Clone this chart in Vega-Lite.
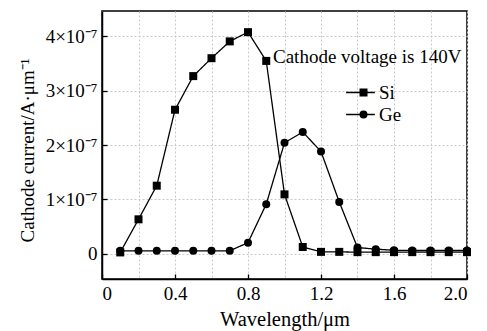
{
  "$schema": "https://vega.github.io/schema/vega-lite/v6.json",
  "width": 365,
  "height": 268,
  "autosize": "none",
  "padding": {"left": 102, "top": 11, "right": 20, "bottom": 52},
  "data": {"values": [
    {"wl": 0.1, "current": 0.05e-7, "material": "Ge"},
    {"wl": 0.2, "current": 0.05e-7, "material": "Ge"},
    {"wl": 0.3, "current": 0.05e-7, "material": "Ge"},
    {"wl": 0.4, "current": 0.05e-7, "material": "Ge"},
    {"wl": 0.5, "current": 0.05e-7, "material": "Ge"},
    {"wl": 0.6, "current": 0.05e-7, "material": "Ge"},
    {"wl": 0.7, "current": 0.05e-7, "material": "Ge"},
    {"wl": 0.8, "current": 0.2e-7, "material": "Ge"},
    {"wl": 0.9, "current": 0.91e-7, "material": "Ge"},
    {"wl": 1.0, "current": 2.04e-7, "material": "Ge"},
    {"wl": 1.1, "current": 2.24e-7, "material": "Ge"},
    {"wl": 1.2, "current": 1.88e-7, "material": "Ge"},
    {"wl": 1.3, "current": 0.95e-7, "material": "Ge"},
    {"wl": 1.4, "current": 0.11e-7, "material": "Ge"},
    {"wl": 1.5, "current": 0.08e-7, "material": "Ge"},
    {"wl": 1.6, "current": 0.06e-7, "material": "Ge"},
    {"wl": 1.7, "current": 0.055e-7, "material": "Ge"},
    {"wl": 1.8, "current": 0.055e-7, "material": "Ge"},
    {"wl": 1.9, "current": 0.055e-7, "material": "Ge"},
    {"wl": 2.0, "current": 0.055e-7, "material": "Ge"},
    {"wl": 0.1, "current": 0.02e-7, "material": "Si"},
    {"wl": 0.2, "current": 0.63e-7, "material": "Si"},
    {"wl": 0.3, "current": 1.25e-7, "material": "Si"},
    {"wl": 0.4, "current": 2.65e-7, "material": "Si"},
    {"wl": 0.5, "current": 3.27e-7, "material": "Si"},
    {"wl": 0.6, "current": 3.6e-7, "material": "Si"},
    {"wl": 0.7, "current": 3.91e-7, "material": "Si"},
    {"wl": 0.8, "current": 4.08e-7, "material": "Si"},
    {"wl": 0.9, "current": 3.55e-7, "material": "Si"},
    {"wl": 1.0, "current": 1.09e-7, "material": "Si"},
    {"wl": 1.1, "current": 0.12e-7, "material": "Si"},
    {"wl": 1.2, "current": 0.03e-7, "material": "Si"},
    {"wl": 1.3, "current": 0.03e-7, "material": "Si"},
    {"wl": 1.4, "current": 0.025e-7, "material": "Si"},
    {"wl": 1.5, "current": 0.025e-7, "material": "Si"},
    {"wl": 1.6, "current": 0.025e-7, "material": "Si"},
    {"wl": 1.7, "current": 0.025e-7, "material": "Si"},
    {"wl": 1.8, "current": 0.025e-7, "material": "Si"},
    {"wl": 1.9, "current": 0.025e-7, "material": "Si"},
    {"wl": 2.0, "current": 0.025e-7, "material": "Si"}
  ]},
  "encoding": {
    "x": {
      "field": "wl", "type": "quantitative",
      "scale": {"domain": [0, 2], "nice": false, "zero": false},
      "axis": {
        "title": "Wavelength/μm",
        "titleFontSize": 20.5,
        "values": [0, 0.2, 0.4, 0.6, 0.8, 1.0, 1.2, 1.4, 1.6, 1.8, 2.0],
        "labelExpr": "datum.value == 0 ? '0' : (abs(datum.value/0.4 - round(datum.value/0.4)) < 0.01 ? format(datum.value, '.1f') : '')",
        "tickOpacity": {"condition": {"test": "abs(datum.value/0.4 - round(datum.value/0.4)) < 0.01", "value": 1}, "value": 0},
        "labelPadding": 10,
        "titlePadding": 6
      }
    },
    "y": {
      "field": "current", "type": "quantitative",
      "scale": {"domain": [-0.47e-7, 4.47e-7], "nice": false, "zero": false},
      "axis": {
        "title": "Cathode current/A·μm⁻¹",
        "values": [0, 1e-7, 2e-7, 3e-7, 4e-7],
        "labelExpr": "datum.value == 0 ? '0' : round(datum.value * 1e7) + '×10⁻⁷'",
        "labelPadding": 10,
        "titlePadding": 8,
        "titleY": 139
      }
    }
  },
  "layer": [
    {
      "mark": {"type": "line", "color": "black", "strokeWidth": 1.3},
      "encoding": {
        "strokeDash": {
          "field": "material", "type": "nominal",
          "sort": ["Si", "Ge"],
          "scale": {"range": [[1, 0], [1, 0]]},
          "legend": {
            "title": null,
            "orient": "none",
            "legendX": 249,
            "legendY": 72,
            "symbolType": "M-3.6,0H3.6",
            "symbolSize": 64,
            "symbolStrokeColor": "black",
            "symbolStrokeWidth": 1.4,
            "rowPadding": 2,
            "labelFontSize": 19,
            "labelFont": "Liberation Serif",
            "labelExpr": "''",
            "labelOpacity": 0
          }
        }
      }
    },
    {
      "mark": {"type": "point", "filled": true, "color": "black", "opacity": 1, "size": 64},
      "encoding": {
        "shape": {
          "field": "material", "type": "nominal",
          "scale": {"domain": ["Si", "Ge"], "range": ["square", "circle"]},
          "legend": {
            "title": "Cathode voltage is 140V",
            "orient": "none",
            "legendX": 171,
            "legendY": 37,
            "symbolOffset": 81,
            "labelOffset": 6,
            "symbolSize": 64,
            "symbolFillColor": "black",
            "titlePadding": 16,
            "rowPadding": 2,
            "titleFontWeight": "normal",
            "titleFontSize": 19,
            "labelFontSize": 19,
            "titleFont": "Liberation Serif",
            "labelFont": "Liberation Serif",
            "titleColor": "black",
            "labelColor": "black",
            "titleLimit": 300
          }
        }
      }
    }
  ],
  "config": {
    "font": "Liberation Serif",
    "view": {"stroke": "black", "strokeWidth": 1.5},
    "axis": {
      "labelFont": "Liberation Serif",
      "titleFont": "Liberation Serif",
      "domainColor": "black",
      "domainWidth": 1.5,
      "tickColor": "black",
      "tickWidth": 1.3,
      "tickSize": -5,
      "labelColor": "black",
      "labelFontSize": 19,
      "titleColor": "black",
      "titleFontSize": 19,
      "titleFontWeight": "normal",
      "grid": true,
      "gridColor": "#c8c8c8",
      "gridDash": [2, 2],
      "gridWidth": 1
    }
  }
}
